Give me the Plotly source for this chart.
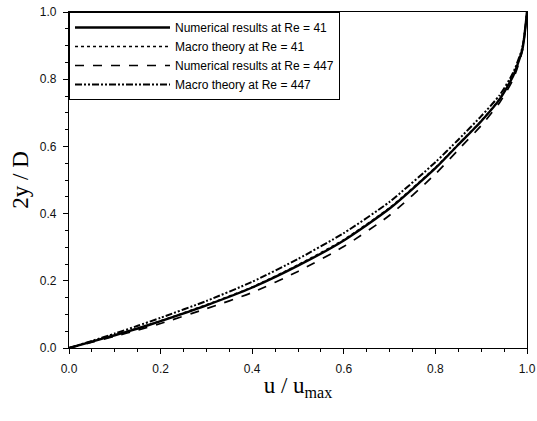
import plotly.graph_objects as go

u = [0, 0.05, 0.1, 0.15, 0.2, 0.3, 0.4, 0.5, 0.6, 0.7, 0.8, 0.85, 0.9, 0.94, 0.97, 0.99, 1.0]
num_re41 = [0, 0.019, 0.038, 0.058, 0.08, 0.127, 0.18, 0.245, 0.32, 0.415, 0.535, 0.605, 0.675, 0.74, 0.81, 0.89, 1.0]
macro_re41 = [0, 0.019, 0.039, 0.059, 0.081, 0.129, 0.182, 0.248, 0.323, 0.418, 0.538, 0.607, 0.677, 0.742, 0.812, 0.891, 1.0]
num_re447 = [0, 0.017, 0.035, 0.053, 0.073, 0.117, 0.165, 0.228, 0.302, 0.395, 0.518, 0.59, 0.662, 0.73, 0.80, 0.885, 1.0]
macro_re447 = [0, 0.021, 0.043, 0.066, 0.09, 0.14, 0.197, 0.265, 0.342, 0.435, 0.553, 0.62, 0.69, 0.752, 0.82, 0.895, 1.0]

names = ["Numerical results at Re = 41", "Macro theory at Re = 41",
         "Numerical results at Re = 447", "Macro theory at Re = 447"]
series = [num_re41, macro_re41, num_re447, macro_re447]
dashes = ["solid", "dot", "dash", "7px,2px,2px,2px,2px,2px"]
widths = [2.4, 1.3, 1.7, 2.0]

fig = go.Figure()
for n, s, d, w in zip(names, series, dashes, widths):
    fig.add_trace(go.Scatter(x=u, y=s, mode="lines", name=n,
                             line=dict(color="black", width=w, dash=d, shape="spline", smoothing=0.6)))

axis_common = dict(
    range=[0, 1], dtick=0.2, tickformat=".1f", showgrid=False, zeroline=False,
    showline=True, linecolor="black", linewidth=1.2, mirror=True,
    ticks="outside", ticklen=5, tickcolor="black", automargin=False,
    ticklabelstandoff=4,
    minor=dict(dtick=0.05, ticks="outside", ticklen=3, tickcolor="black"),
    tickfont=dict(family="Liberation Sans, Arial", size=12, color="#111"),
)
fig.update_xaxes(**axis_common,
                 title=dict(text="u / u<sub>max</sub>", font=dict(family="Liberation Serif, Times New Roman", size=23, color="black"), standoff=2))
fig.update_yaxes(**axis_common,
                 title=dict(text="2y / D", font=dict(family="Liberation Serif, Times New Roman", size=23, color="black"), standoff=4))

fig.update_layout(
    width=537, height=421,
    margin=dict(l=69, r=10, t=12, b=73),
    paper_bgcolor="white", plot_bgcolor="white",
    showlegend=True,
    legend=dict(x=0, y=1, xanchor="left", yanchor="top",
                bgcolor="white", bordercolor="black", borderwidth=1,
                font=dict(family="Liberation Sans, Arial", size=12, color="black"),
                itemwidth=95, tracegroupgap=0),
)
fig.write_html("out.html")
